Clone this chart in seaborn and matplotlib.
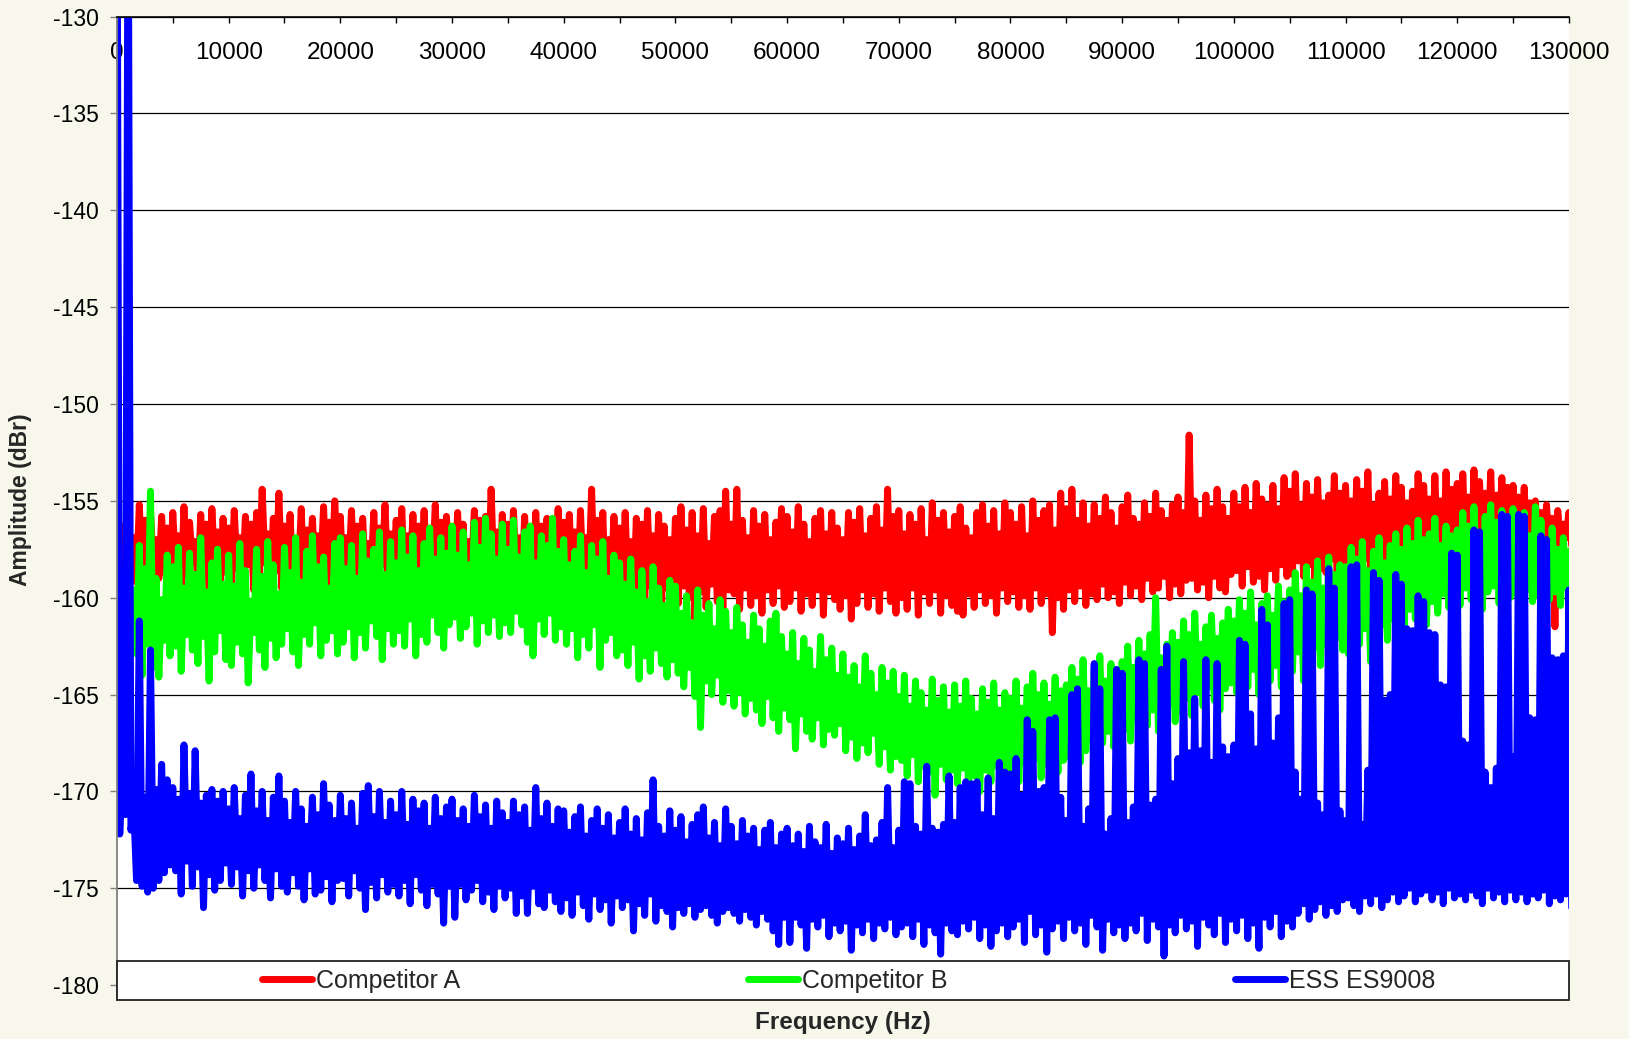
import numpy as np
import pandas as pd
import seaborn as sns
import matplotlib
matplotlib.use('Agg')
import matplotlib.pyplot as plt
from matplotlib.lines import Line2D
from matplotlib.patches import Rectangle

sns.set_theme(style="white")
plt.rcParams['font.family'] = ['Liberation Sans', 'DejaVu Sans']
plt.rcParams['axes.unicode_minus'] = False

# 500 Hz bins; for every bin the peak (at f) and the trough (at f + 250 Hz)
# in dBr
freq = np.arange(0, 130001, 500)

names = ['Competitor A', 'Competitor B', 'ESS ES9008']
colors = ['#FF0000', '#00FF00', '#0000FF']

comp_a_peak = [
    -155.4, -156.3, -155.7, -156.9, -155.2, -156.0, -155.5, -157.0, -155.8, -156.4,
    -155.6, -156.8, -155.3, -156.1, -157.1, -155.7, -156.2, -155.4, -156.6, -155.9,
    -156.4, -155.5, -156.9, -155.8, -156.2, -155.6, -154.4, -156.7, -155.9, -154.6,
    -156.3, -155.7, -157.0, -155.4, -156.5, -155.9, -156.8, -155.3, -156.1, -155.0,
    -155.8, -156.9, -155.5, -156.3, -155.9, -157.2, -155.6, -156.4, -155.2, -156.7,
    -156.0, -155.4, -156.8, -155.7, -156.3, -155.5, -157.0, -155.2, -156.1, -155.8,
    -156.5, -155.6, -156.2, -157.1, -155.5, -156.0, -155.8, -154.4, -156.6, -155.7,
    -156.2, -155.5, -156.9, -155.8, -157.2, -155.6, -156.3, -155.9, -156.7, -155.4,
    -156.1, -155.7, -156.6, -155.5, -156.9, -154.4, -156.0, -155.6, -157.0, -155.8,
    -156.4, -155.6, -157.1, -155.9, -156.2, -155.5, -156.8, -155.7, -156.3, -157.0,
    -155.9, -155.3, -156.5, -155.6, -156.8, -155.4, -157.2, -155.8, -155.5, -154.5,
    -156.2, -154.4, -156.0, -156.9, -155.5, -156.3, -155.7, -157.0, -156.1, -155.4,
    -155.8, -156.6, -155.3, -156.2, -157.1, -155.9, -155.5, -156.7, -155.6, -156.4,
    -157.0, -155.6, -156.1, -155.4, -156.8, -155.9, -155.3, -156.5, -154.4, -155.8,
    -155.5, -156.7, -155.7, -156.2, -155.4, -157.0, -155.1, -156.0, -155.6, -156.6,
    -155.8, -155.3, -156.4, -156.9, -155.6, -155.2, -156.3, -155.5, -156.7, -155.1,
    -155.6, -156.2, -155.3, -156.8, -155.0, -156.0, -155.5, -155.2, -156.5, -154.6,
    -155.4, -154.4, -156.0, -155.1, -156.3, -155.2, -155.9, -154.8, -155.6, -156.4,
    -155.3, -154.7, -155.9, -156.2, -155.1, -155.8, -154.6, -155.5, -156.0, -155.2,
    -154.8, -155.6, -151.6, -155.0, -156.0, -154.7, -155.4, -154.4, -155.3, -155.9,
    -154.6, -155.3, -154.3, -155.6, -154.1, -154.9, -155.2, -154.2, -155.4, -153.8,
    -154.5, -153.6, -155.2, -154.1, -154.8, -153.9, -155.1, -154.7, -153.7, -154.6,
    -154.2, -155.0, -153.9, -154.5, -153.5, -155.2, -154.6, -154.0, -154.9, -153.7,
    -154.3, -155.1, -154.5, -153.6, -154.2, -154.9, -153.7, -155.0, -153.5, -154.4,
    -154.1, -153.6, -154.8, -153.4, -154.0, -154.6, -153.5, -154.7, -153.8, -154.3,
    -154.2, -154.8, -154.3, -155.1, -155.0, -155.6, -155.2, -155.9, -155.5, -156.2,
    -155.6,
]
comp_a_trough = [
    -158.6, -159.5, -158.3, -159.2, -158.8, -159.7, -158.4, -159.0, -158.7, -159.4,
    -158.5, -159.6, -158.9, -158.2, -159.3, -158.6, -159.8, -158.4, -159.1, -158.7,
    -159.4, -158.5, -159.0, -158.3, -159.6, -158.8, -158.2, -159.3, -158.6, -159.5,
    -158.4, -159.2, -158.7, -159.7, -158.3, -159.0, -158.5, -159.4, -158.8, -158.2,
    -159.3, -158.6, -159.5, -158.4, -159.1, -158.7, -159.8, -158.3, -159.2, -158.9,
    -158.5, -159.4, -158.8, -159.6, -158.2, -159.1, -158.6, -159.5, -158.9, -158.4,
    -159.2, -158.7, -159.6, -158.5, -159.0, -158.3, -159.4, -158.8, -159.7, -158.6,
    -159.5, -158.9, -159.8, -159.1, -158.6, -159.6, -159.0, -159.9, -158.8, -159.3,
    -159.6, -159.0, -159.9, -159.3, -158.9, -159.7, -159.4, -160.1, -159.2, -159.5,
    -160.0, -159.3, -160.4, -159.6, -160.2, -159.4, -159.9, -160.5, -159.5, -160.1,
    -160.3, -159.4, -160.0, -161.1, -159.7, -160.5, -159.3, -160.2, -160.7, -159.6,
    -159.8, -160.6, -159.5, -160.4, -159.9, -160.8, -159.6, -160.3, -159.4, -160.5,
    -160.2, -159.5, -160.7, -159.8, -160.4, -159.6, -160.9, -159.7, -160.1, -160.6,
    -159.9, -161.1, -160.3, -159.6, -160.5, -159.8, -160.7, -159.5, -160.2, -160.8,
    -160.0, -160.6, -159.5, -160.9, -159.7, -160.3, -159.6, -160.8, -159.9, -160.4,
    -160.7, -160.9, -159.8, -160.5, -159.6, -160.3, -159.9, -160.8, -159.5, -160.2,
    -159.7, -160.5, -159.9, -160.6, -159.5, -160.3, -159.8, -161.8, -160.0, -160.6,
    -159.6, -160.2, -159.4, -160.4, -159.8, -160.1, -159.3, -160.0, -159.7, -160.3,
    -159.2, -159.9, -159.4, -160.1, -159.0, -159.7, -159.5, -158.9, -160.0, -159.3,
    -159.8, -159.1, -159.0, -159.6, -159.2, -160.0, -158.9, -159.5, -159.7, -158.8,
    -158.6, -159.4, -158.4, -159.2, -158.9, -159.6, -158.5, -159.1, -158.3, -158.9,
    -158.8, -158.1, -158.9, -158.3, -159.2, -158.5, -158.7, -158.0, -159.0, -158.4,
    -158.3, -158.9, -158.5, -158.0, -158.8, -157.9, -158.6, -159.0, -158.1, -158.7,
    -158.6, -158.2, -158.9, -158.4, -157.9, -158.7, -158.1, -158.5, -158.0, -158.8,
    -158.2, -157.7, -158.5, -157.9, -158.3, -157.6, -158.0, -157.4, -157.9, -157.5,
    -157.6, -157.2, -157.8, -157.0, -157.5, -157.1, -157.7, -161.5, -157.2, -156.9,
    -157.3,
]

comp_b_peak = [
    -157.6, -159.1, -158.0, -159.6, -157.3, -158.5, -154.5, -159.0, -160.1, -157.8,
    -158.4, -157.4, -159.5, -157.7, -158.8, -156.9, -159.7, -158.2, -157.5, -159.3,
    -157.8, -159.4, -157.2, -158.6, -160.2, -157.5, -158.9, -157.1, -158.3, -159.8,
    -157.4, -158.7, -156.9, -159.2, -157.6, -156.8, -158.4, -157.9, -159.5, -157.2,
    -156.9, -158.5, -157.3, -159.0, -156.7, -158.1, -157.5, -156.6, -158.8, -157.1,
    -158.2, -156.5, -157.9, -156.8, -158.6, -157.2, -156.4, -158.0, -156.9, -157.7,
    -156.3, -157.8, -156.6, -158.3, -156.1, -157.4, -155.9, -156.7, -158.0, -156.2,
    -157.5, -156.0, -157.9, -156.6, -156.3, -158.2, -156.8, -157.3, -155.9, -157.6,
    -157.0, -158.3, -157.6, -156.8, -158.7, -157.3, -158.0, -157.1, -159.0, -157.8,
    -158.2, -159.3, -158.0, -159.7, -158.6, -160.2, -158.4, -159.5, -160.4, -159.1,
    -159.4, -160.8, -159.9, -161.3, -159.6, -160.9, -160.3, -161.6, -160.1, -160.7,
    -161.8, -160.5, -161.4, -162.3, -160.9, -161.6, -162.5, -161.2, -160.8, -162.0,
    -162.9, -161.8, -163.4, -162.1, -162.7, -163.8, -162.0, -163.2, -162.6, -164.0,
    -162.9, -164.1, -163.5, -164.6, -163.0, -163.9, -165.0, -163.6, -164.4, -163.8,
    -165.1, -164.0, -165.6, -164.3, -164.9, -165.8, -164.2, -165.3, -164.6, -165.9,
    -164.5, -165.6, -164.3, -165.2, -166.0, -164.7, -165.4, -164.4, -165.8, -164.9,
    -165.2, -164.3, -165.7, -164.6, -163.9, -165.0, -164.4, -165.5, -164.1, -164.8,
    -164.5, -163.6, -164.2, -163.2, -164.8, -163.7, -163.0, -164.3, -163.4, -163.8,
    -163.3, -162.5, -163.6, -162.2, -162.9, -161.9, -160.0, -163.1, -162.4, -161.8,
    -162.3, -161.2, -161.9, -160.8, -162.4, -161.5, -160.9, -162.1, -161.3, -160.6,
    -161.2, -160.1, -160.8, -159.7, -161.4, -160.3, -159.9, -160.9, -159.4, -160.2,
    -159.6, -158.7, -159.9, -158.4, -159.2, -158.1, -159.5, -157.9, -158.8, -158.3,
    -158.4, -157.4, -158.0, -157.1, -158.6, -157.6, -156.9, -158.2, -157.3, -156.7,
    -157.5, -156.4, -157.2, -156.0, -157.0, -156.7, -155.9, -157.3, -156.3, -156.8,
    -156.5, -155.6, -156.3, -155.3, -156.7, -155.8, -155.2, -156.1, -155.5, -155.9,
    -155.4, -156.2, -155.6, -156.8, -155.3, -156.0, -157.2, -156.4, -157.5, -156.9,
    -157.6,
]
comp_b_trough = [
    -162.1, -163.3, -161.8, -162.9, -164.0, -162.4, -163.6, -164.1, -162.2, -163.0,
    -162.5, -163.8, -161.9, -162.7, -163.4, -162.0, -164.3, -162.8, -161.7, -163.2,
    -163.5, -162.3, -162.9, -164.4, -161.8, -162.7, -163.6, -162.1, -163.1, -162.4,
    -161.6, -162.8, -163.5, -161.9, -162.4, -161.3, -163.0, -162.2, -161.7, -162.9,
    -162.3, -161.5, -163.1, -161.8, -162.6, -161.2, -162.0, -163.2, -161.6, -162.4,
    -161.7, -162.5, -161.1, -163.0, -161.9, -162.3, -160.9, -161.8, -162.6, -161.4,
    -161.0, -162.1, -161.5, -160.8, -162.4, -161.2, -161.8, -160.9, -162.0, -161.3,
    -161.8, -160.7, -161.4, -162.3, -163.0, -161.1, -161.9, -160.8, -162.2, -161.5,
    -162.4, -161.6, -163.1, -161.9, -162.6, -161.4, -163.6, -162.2, -161.8, -163.0,
    -162.7, -163.5, -162.3, -164.2, -163.0, -163.8, -162.6, -163.4, -164.1, -163.2,
    -163.9, -164.6, -163.6, -165.1, -166.7, -164.3, -165.0, -164.0, -165.4, -164.8,
    -165.6, -164.9, -166.0, -165.2, -165.8, -166.5, -165.1, -166.2, -166.9, -165.7,
    -166.3, -167.8, -166.0, -166.9, -167.3, -166.2, -167.6, -166.8, -167.1, -166.5,
    -167.9, -167.2, -168.3, -167.5, -168.0, -167.0, -168.6, -167.7, -168.9, -168.2,
    -168.4, -169.2, -168.1, -169.5, -168.7, -169.0, -170.2, -168.6, -169.4, -168.9,
    -169.6, -168.8, -169.9, -169.2, -170.0, -168.9, -169.5, -168.7, -169.7, -169.1,
    -168.8, -169.5, -168.5, -169.1, -168.3, -169.3, -168.6, -168.1, -169.0, -168.4,
    -168.2, -167.6, -168.5, -167.9, -167.3, -168.1, -167.5, -166.9, -167.7, -167.2,
    -166.8, -167.4, -166.3, -167.0, -166.6, -165.8, -166.9, -166.1, -165.5, -166.4,
    -165.9, -165.2, -166.1, -164.9, -165.6, -164.6, -165.3, -165.8, -164.7, -164.4,
    -164.9, -164.1, -164.6, -163.7, -165.0, -163.9, -164.3, -163.5, -164.6, -163.2,
    -163.8, -162.8, -164.3, -163.1, -162.6, -163.5, -162.4, -163.0, -162.1, -162.7,
    -162.9, -161.9, -162.4, -161.6, -163.3, -162.0, -161.4, -162.2, -161.1, -161.7,
    -161.6, -160.6, -161.1, -160.3, -161.4, -160.2, -160.8, -159.8, -160.5, -160.1,
    -160.4, -159.5, -160.1, -159.2, -160.6, -159.7, -159.4, -160.3, -159.6, -160.0,
    -159.8, -160.5, -159.6, -160.2, -159.9, -160.6, -160.1, -159.7, -160.4, -159.5,
    -159.0,
]

ess_peak = [
    -120.0, -168.0, -120.0, -170.8, -161.2, -170.3, -162.7, -169.9, -168.6, -169.4,
    -169.8, -170.4, -167.6, -170.1, -167.9, -170.6, -170.2, -169.9, -170.5, -170.0,
    -170.9, -169.8, -171.4, -170.2, -169.1, -171.0, -170.0, -171.5, -170.3, -169.2,
    -170.5, -171.6, -170.0, -170.9, -171.8, -170.3, -171.2, -169.6, -170.7, -171.5,
    -170.2, -171.4, -170.6, -171.9, -170.1, -169.7, -171.3, -170.0, -171.6, -170.5,
    -171.2, -170.0, -171.7, -170.4, -171.0, -170.6, -171.9, -170.3, -171.4, -170.8,
    -170.4, -171.5, -170.9, -171.8, -170.2, -171.3, -170.7, -171.9, -170.5, -171.1,
    -171.6, -170.5, -171.2, -170.8, -172.0, -169.8, -171.4, -170.6, -171.8, -170.9,
    -171.0, -172.1, -171.3, -170.8, -172.3, -171.5, -170.9, -171.9, -171.2, -172.4,
    -171.6, -170.9, -172.2, -171.4, -172.5, -171.1, -169.4, -171.8, -172.3, -171.0,
    -172.0, -171.3, -172.6, -171.7, -171.2, -170.8, -172.4, -171.6, -172.8, -170.9,
    -171.8, -172.7, -171.5, -172.3, -171.9, -173.0, -172.0, -171.6, -172.9, -172.2,
    -171.9, -172.8, -172.2, -173.1, -171.8, -172.6, -172.9, -171.7, -173.2, -172.4,
    -172.7, -171.9, -173.0, -172.3, -171.2, -172.8, -172.5, -171.6, -169.8, -172.9,
    -172.0, -169.5, -169.6, -171.8, -172.2, -168.7, -171.9, -172.1, -171.7, -169.2,
    -171.6, -169.8, -169.5, -169.6, -169.5, -171.2, -169.3, -171.4, -168.5, -169.0,
    -169.1, -168.3, -170.2, -166.3, -166.9, -170.0, -169.8, -166.3, -166.2, -170.3,
    -171.5, -165.0, -164.7, -171.8, -170.9, -163.4, -164.7, -172.2, -171.4, -163.7,
    -163.9, -171.6, -170.8, -163.2, -163.4, -170.7, -170.4, -163.7, -162.5, -169.6,
    -168.3, -163.3, -168.0, -165.2, -167.9, -163.2, -168.5, -163.4, -167.7, -168.2,
    -167.6, -162.2, -162.4, -166.0, -167.8, -160.6, -161.4, -167.5, -166.2, -160.3,
    -160.1, -169.0, -170.4, -159.6, -159.8, -170.6, -171.2, -158.5, -159.5, -171.0,
    -171.5, -158.4, -158.3, -171.7, -168.9, -158.7, -159.1, -165.3, -165.0, -158.8,
    -159.3, -161.6, -161.7, -159.9, -160.2, -161.8, -161.9, -164.5, -164.6, -157.7,
    -157.8, -167.4, -167.6, -156.5, -156.6, -169.0, -169.8, -168.8, -155.7, -155.8,
    -168.2, -155.7, -155.8, -166.2, -166.3, -156.8, -157.0, -163.1, -163.2, -163.0,
    -159.6,
]
ess_trough = [
    -172.2, -171.2, -172.0, -174.6, -174.9, -175.2, -175.0, -174.6, -174.2, -173.8,
    -174.1, -175.3, -173.6, -174.9, -173.9, -176.0, -174.3, -175.1, -174.6, -173.7,
    -174.8, -173.9, -175.4, -174.1, -175.0, -173.8, -174.6, -175.5, -174.0, -174.9,
    -175.2, -174.2, -174.9, -175.6, -174.0, -175.3, -175.1, -174.4, -175.7, -174.6,
    -174.5, -175.4, -174.1, -175.0, -176.1, -174.7, -175.5, -174.3, -175.2, -174.8,
    -175.4, -174.6, -175.8, -174.3, -175.1, -175.9, -174.8, -175.3, -176.8, -174.9,
    -176.5, -174.8, -175.6, -175.1, -174.6, -175.7, -175.2, -176.1, -174.9, -175.5,
    -175.0, -176.3, -175.4, -176.3, -174.9, -175.8, -176.0, -175.1, -175.7, -176.2,
    -175.5, -176.4, -175.2, -175.9, -176.6, -175.3, -176.1, -175.6, -176.8, -175.4,
    -176.0, -175.6, -177.2, -175.8, -176.4, -175.3, -176.7, -175.9, -176.2, -177.0,
    -176.0, -176.3, -175.8, -176.5, -176.1, -175.9, -176.4, -176.8, -176.2, -176.0,
    -176.3, -176.7, -176.1, -176.5, -176.9, -176.2, -176.6, -177.2, -177.9, -176.5,
    -177.8, -176.5, -176.9, -178.1, -176.6, -177.0, -176.4, -177.5, -176.8, -177.2,
    -176.7, -178.2, -176.9, -177.3, -176.6, -177.6, -176.8, -177.1, -176.5, -177.4,
    -177.0, -176.8, -177.5, -176.6, -177.9, -176.9, -177.3, -178.4, -176.8, -177.2,
    -177.4, -176.7, -177.1, -176.5, -177.6, -176.9, -178.0, -177.2, -176.8, -177.5,
    -177.0, -176.6, -177.8, -176.2, -177.4, -176.9, -178.3, -177.1, -176.7, -177.6,
    -176.5, -177.2, -176.8, -177.9, -176.4, -177.0, -178.2, -176.6, -177.3, -176.9,
    -177.6, -176.8, -177.2, -176.3, -177.7, -176.6, -177.0, -178.5, -176.9, -177.3,
    -176.4, -177.1, -176.7, -178.0, -176.5, -176.9, -177.4, -176.3, -177.8, -176.6,
    -177.2, -176.4, -177.6, -176.8, -178.1, -176.5, -177.0, -176.2, -177.5, -176.7,
    -177.0, -176.3, -175.8, -176.6, -176.1, -175.7, -176.4, -175.9, -176.2, -175.6,
    -175.5, -175.9, -176.2, -175.4, -175.8, -175.3, -176.0, -175.6, -175.2, -175.7,
    -175.4, -175.0, -175.7, -175.3, -175.1, -175.6, -175.2, -175.8, -175.0, -175.5,
    -175.3, -175.6, -175.1, -175.4, -175.8, -175.0, -175.5, -175.2, -175.7, -175.1,
    -175.6, -175.2, -175.7, -175.3, -175.5, -175.1, -175.8, -175.4, -175.6, -175.3,
    -176.0,
]

yticks = [-180, -175, -170, -165, -160, -155, -150, -145, -140, -135, -130]
ytick_labels = [str(v) for v in yticks]
xticks = list(range(0, 130001, 10000))
xtick_labels = [str(v) for v in xticks]

peaks = [comp_a_peak, comp_b_peak, ess_peak]
troughs = [comp_a_trough, comp_b_trough, ess_trough]

# peak at the bin frequency, trough half a bin later
x_pairs = np.column_stack([freq, freq + 250]).ravel()
frames = []
for name, pk, tr in zip(names, peaks, troughs):
    frames.append(pd.DataFrame({
        'Frequency (Hz)': x_pairs,
        'Amplitude (dBr)': np.column_stack([pk, tr]).ravel(),
        'series': name,
    }))
df = pd.concat(frames, ignore_index=True)

fig = plt.figure(figsize=(16.29, 10.39), dpi=100, facecolor='#F7F8EB')
ax = fig.add_axes([0.0718, 0.0375, 0.8913, 0.9465])
ax.set_facecolor('white')

sns.lineplot(data=df, x='Frequency (Hz)', y='Amplitude (dBr)', hue='series',
             hue_order=names, palette=dict(zip(names, colors)), estimator=None,
             linewidth=5, legend=False, ax=ax,
             solid_joinstyle='round', solid_capstyle='round')

ax.set_xlim(0, 130000)
ax.set_ylim(-180.77, -130)
ax.set_xlabel('')
ax.set_ylabel('')

# y axis
ax.set_yticks(yticks, labels=ytick_labels)
ax.tick_params(axis='y', which='major', left=True, direction='out', length=5,
               width=1, color='#808080', pad=8, labelsize=16.5, labelcolor='black')
ax.yaxis.grid(True, color='black', linewidth=0.9)
ax.xaxis.grid(False)

# x axis sits on top, labels drawn just under the line
ax.xaxis.tick_top()
ax.set_xticks(xticks, labels=xtick_labels)
ax.set_xticks(range(0, 130001, 5000), minor=True)
ax.tick_params(axis='x', which='both', top=True, bottom=False, direction='in',
               length=4.3, width=1, color='black')
ax.tick_params(axis='x', which='major', labeltop=True, labelbottom=False,
               pad=-34, labelsize=17.5, labelcolor='black')

for side in ['right', 'bottom']:
    ax.spines[side].set_visible(False)
ax.spines['top'].set_color('black')
ax.spines['top'].set_linewidth(1.2)
ax.spines['left'].set_color('#808080')
ax.spines['left'].set_linewidth(1.3)

# legend box across the bottom of the plot area
ax.add_patch(Rectangle((0, 0), 1, 0.0397, transform=ax.transAxes, facecolor='white',
                       edgecolor='#222222', linewidth=1.3, zorder=4, clip_on=False))
handles = [Line2D([], [], color=c, linewidth=5, solid_capstyle='round') for c in colors]
leg = ax.legend(handles, names, loc='center', bbox_to_anchor=(0.504, 0.0195), ncol=3,
                frameon=False, fontsize=18, handlelength=2.0, handletextpad=0.16,
                columnspacing=11.5, borderaxespad=0, borderpad=0)
leg.set_zorder(5)

fig.text(842.6 / 1629, 1 - 1023 / 1039, 'Frequency (Hz)', ha='center', va='center',
         fontsize=17.5, fontweight='bold')
fig.text(21 / 1629, 1 - 500 / 1039, 'Amplitude (dBr)', ha='center', va='center',
         rotation=90, fontsize=16.5, fontweight='bold')

fig.savefig('out.png', dpi=100, facecolor=fig.get_facecolor())
